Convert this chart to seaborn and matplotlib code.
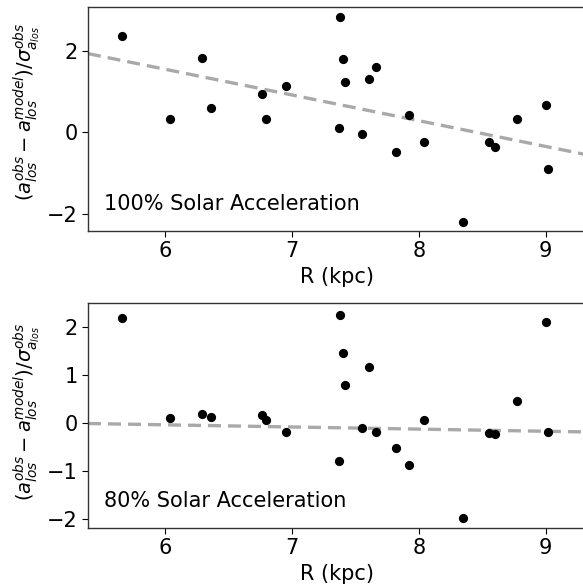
import numpy as np
import pandas as pd
import matplotlib
matplotlib.use("Agg")
import matplotlib.pyplot as plt
import seaborn as sns

# Galactocentric radius of each pulsar (kpc)
radius = [5.66, 6.04, 6.29, 6.36, 6.76, 6.79, 6.95, 7.38, 7.40, 7.42, 7.37, 7.61,
          7.66, 7.55, 7.82, 7.92, 8.04, 8.35, 8.55, 8.60, 8.77, 9.00, 9.02]

# Normalised residuals for the full solar acceleration
resid_100 = [2.36, 0.34, 1.83, 0.60, 0.95, 0.34, 1.13, 2.82, 1.81, 1.24, 0.11, 1.31,
             1.60, -0.04, -0.48, 0.42, -0.24, -2.18, -0.24, -0.35, 0.34, 0.67, -0.90]

# Normalised residuals for 80% of the solar acceleration
resid_80 = [2.20, 0.10, 0.20, 0.12, 0.18, 0.07, -0.19, 2.26, 1.47, 0.80, -0.79, 1.18,
            -0.18, -0.10, -0.51, -0.88, 0.07, -1.99, -0.21, -0.22, 0.47, 2.12, -0.19]

# Linear trend of the residuals with radius: slope (per kpc) and intercept
trend_slope = [-0.629, -0.0448]
trend_intercept = [5.32, 0.234]

panel_labels = ["100% Solar Acceleration", "80% Solar Acceleration"]

df = pd.DataFrame({"R": radius, "r100": resid_100, "r80": resid_80})

sns.set_style("ticks")
plt.rcParams["font.family"] = ["DejaVu Sans"]
plt.rcParams["mathtext.fontset"] = "dejavusans"
plt.rcParams["text.color"] = "black"
plt.rcParams["axes.labelcolor"] = "black"

fig = plt.figure(figsize=(5.83, 5.85), dpi=100)
W, H = 583, 585
ax1 = fig.add_axes([88 / W, 1 - 231 / H, (585 - 88) / W, (231 - 7) / H])
ax2 = fig.add_axes([88 / W, 1 - 528 / H, (585 - 88) / W, (528 - 303) / H])

ylabel = r"$(a_{los}^{obs} - a_{los}^{model})/\sigma_{a_{los}}^{obs}$"
xlim = (5.39, 9.31)

panels = [(ax1, "r100", (-2.41, 3.07)), (ax2, "r80", (-2.19, 2.51))]
for i, (ax, col, ylim) in enumerate(panels):
    # trend line across the full radial range
    xs = np.array(xlim)
    line_df = pd.DataFrame({"R": xs, "fit": trend_intercept[i] + trend_slope[i] * xs})
    sns.lineplot(data=line_df, x="R", y="fit", ax=ax, color="darkgray",
                 lw=2.4, zorder=2)
    ax.lines[-1].set_dashes((3.9, 2.1))
    sns.scatterplot(data=df, x="R", y=col, ax=ax, s=44, color="black",
                    linewidth=0, zorder=3)
    ax.set_xlim(*xlim)
    ax.set_ylim(*ylim)
    ax.set_xlabel("R (kpc)", fontsize=15)
    ax.set_ylabel(ylabel, fontsize=14)
    ax.tick_params(labelsize=15, length=4, width=0.8, colors="black")
    ax.text(0.032, 0.094, panel_labels[i], transform=ax.transAxes, fontsize=15,
            ha="left", va="baseline")
    for s in ax.spines.values():
        s.set_color("#333333")
        s.set_linewidth(1.0)

ax1.set_xticks([6, 7, 8, 9])
ax2.set_xticks([6, 7, 8, 9])
ax1.set_yticks([-2, 0, 2])
ax2.set_yticks([-2, -1, 0, 1, 2])
ax1.yaxis.set_label_coords(-0.09, 0.533)
ax2.yaxis.set_label_coords(-0.09, 0.517)

fig.savefig("out.png", dpi=100)
